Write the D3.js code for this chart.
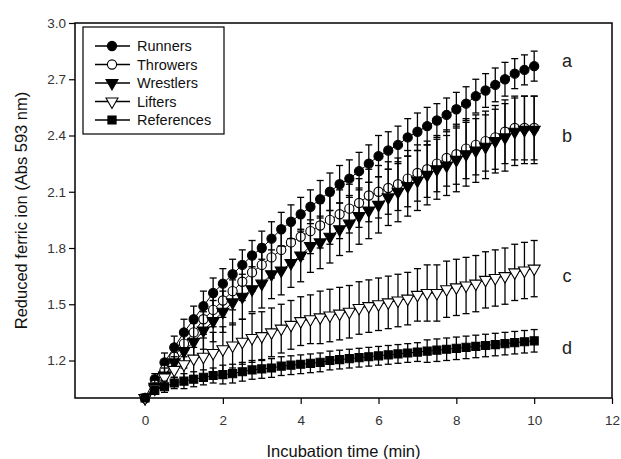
<!DOCTYPE html>
<html>
<head>
<meta charset="utf-8">
<script src="https://cdn.jsdelivr.net/npm/d3@7"></script>
<style>
  body { margin: 0; background: #fff; }
  svg { display: block; font-family: "Liberation Sans", Arial, sans-serif; }
</style>
</head>
<body>
<svg id="chart" width="621" height="459"></svg>
<script>
// incubation time (min)
const times = [0, 0.25, 0.5, 0.75, 1, 1.25, 1.5, 1.75, 2, 2.25, 2.5, 2.75, 3, 3.25, 3.5, 3.75,
  4, 4.25, 4.5, 4.75, 5, 5.25, 5.5, 5.75, 6, 6.25, 6.5, 6.75, 7, 7.25, 7.5, 7.75,
  8, 8.25, 8.5, 8.75, 9, 9.25, 9.5, 9.75, 10];

const runners = [1.00, 1.10, 1.19, 1.27, 1.35, 1.42, 1.49, 1.56, 1.61, 1.66, 1.71, 1.76, 1.80, 1.85,
  1.90, 1.94, 1.98, 2.02, 2.06, 2.10, 2.14, 2.17, 2.21, 2.25, 2.29, 2.32, 2.35, 2.39, 2.42, 2.45,
  2.48, 2.51, 2.54, 2.57, 2.61, 2.64, 2.67, 2.70, 2.73, 2.75, 2.77];
const runnersErr = [0, 0.03, 0.05, 0.06, 0.07, 0.07, 0.08, 0.08, 0.08, 0.08, 0.08, 0.08, 0.09, 0.09,
  0.09, 0.09, 0.09, 0.09, 0.10, 0.10, 0.10, 0.10, 0.10, 0.10, 0.11, 0.10, 0.10, 0.10, 0.10, 0.10,
  0.09, 0.09, 0.09, 0.09, 0.09, 0.09, 0.09, 0.09, 0.08, 0.08, 0.08];

const throwers = [1.00, 1.07, 1.15, 1.22, 1.29, 1.35, 1.42, 1.47, 1.52, 1.57, 1.62, 1.67, 1.71, 1.75,
  1.79, 1.83, 1.86, 1.89, 1.92, 1.95, 1.98, 2.01, 2.04, 2.08, 2.10, 2.12, 2.14, 2.17, 2.20, 2.22,
  2.25, 2.28, 2.30, 2.33, 2.35, 2.37, 2.39, 2.42, 2.44, 2.44, 2.44];
const throwersErr = [0, 0.04, 0.05, 0.06, 0.07, 0.08, 0.08, 0.09, 0.09, 0.10, 0.10, 0.10, 0.11, 0.11,
  0.11, 0.12, 0.12, 0.12, 0.12, 0.13, 0.13, 0.13, 0.13, 0.14, 0.14, 0.14, 0.14, 0.15, 0.15, 0.15,
  0.15, 0.15, 0.16, 0.16, 0.16, 0.16, 0.17, 0.17, 0.17, 0.17, 0.17];

const wrestlers = [1.00, 1.06, 1.12, 1.19, 1.25, 1.30, 1.36, 1.41, 1.46, 1.51, 1.54, 1.58, 1.61, 1.66,
  1.68, 1.72, 1.76, 1.81, 1.83, 1.86, 1.90, 1.93, 1.97, 2.00, 2.03, 2.07, 2.10, 2.13, 2.16, 2.19,
  2.22, 2.24, 2.27, 2.30, 2.32, 2.34, 2.37, 2.39, 2.42, 2.43, 2.43];
const wrestlersErr = [0, 0.04, 0.06, 0.08, 0.09, 0.10, 0.10, 0.11, 0.11, 0.12, 0.12, 0.12, 0.13, 0.13,
  0.13, 0.13, 0.14, 0.14, 0.14, 0.14, 0.14, 0.15, 0.15, 0.15, 0.15, 0.15, 0.16, 0.16, 0.16, 0.16,
  0.16, 0.16, 0.17, 0.17, 0.17, 0.17, 0.17, 0.18, 0.18, 0.18, 0.18];

const lifters = [1.00, 1.05, 1.11, 1.15, 1.18, 1.21, 1.22, 1.24, 1.26, 1.28, 1.30, 1.32, 1.33, 1.35,
  1.37, 1.39, 1.41, 1.42, 1.43, 1.44, 1.45, 1.46, 1.48, 1.49, 1.50, 1.51, 1.52, 1.53, 1.55, 1.56,
  1.56, 1.58, 1.59, 1.60, 1.61, 1.63, 1.64, 1.65, 1.67, 1.68, 1.69];
const liftersErr = [0, 0.03, 0.05, 0.07, 0.08, 0.09, 0.10, 0.11, 0.12, 0.12, 0.12, 0.13, 0.13, 0.13,
  0.13, 0.13, 0.13, 0.13, 0.14, 0.14, 0.14, 0.14, 0.14, 0.14, 0.14, 0.14, 0.14, 0.14, 0.14, 0.15,
  0.15, 0.15, 0.15, 0.15, 0.15, 0.15, 0.15, 0.15, 0.15, 0.15, 0.15];

const references = [1.00, 1.04, 1.06, 1.08, 1.09, 1.10, 1.11, 1.12, 1.125, 1.13, 1.14, 1.15, 1.155,
  1.16, 1.17, 1.175, 1.18, 1.185, 1.19, 1.20, 1.205, 1.21, 1.215, 1.22, 1.225, 1.23, 1.235, 1.24,
  1.245, 1.25, 1.255, 1.26, 1.265, 1.27, 1.275, 1.28, 1.285, 1.29, 1.295, 1.30, 1.305];
const referencesErr = [0, 0.02, 0.03, 0.03, 0.04, 0.04, 0.04, 0.04, 0.05, 0.05, 0.05, 0.05, 0.05,
  0.05, 0.05, 0.05, 0.05, 0.05, 0.05, 0.05, 0.05, 0.05, 0.05, 0.05, 0.05, 0.05, 0.05, 0.05, 0.05,
  0.06, 0.06, 0.06, 0.06, 0.06, 0.06, 0.06, 0.06, 0.06, 0.06, 0.06, 0.06];

const seriesNames = ["Runners", "Throwers", "Wrestlers", "Lifters", "References"];
const groupLetters = ["a", "b", "c", "d"];
const letterValues = [2.80, 2.40, 1.65, 1.27];
const xTicks = [0, 2, 4, 6, 8, 10, 12];
const yTicks = [1.2, 1.5, 1.8, 2.1, 2.4, 2.7, 3.0];

const series = [
  { name: seriesNames[0], values: runners, err: runnersErr, shape: d3.symbolCircle, fill: "#000", rot: 0 },
  { name: seriesNames[1], values: throwers, err: throwersErr, shape: d3.symbolCircle, fill: "#fff", rot: 0 },
  { name: seriesNames[2], values: wrestlers, err: wrestlersErr, shape: d3.symbolTriangle, fill: "#000", rot: 180 },
  { name: seriesNames[3], values: lifters, err: liftersErr, shape: d3.symbolTriangle, fill: "#fff", rot: 180 },
  { name: seriesNames[4], values: references, err: referencesErr, shape: d3.symbolSquare, fill: "#000", rot: 0 }
];

const svg = d3.select("#chart");
const margin = { left: 75, right: 9, top: 23, bottom: 61 };
const W = 621, H = 459;

const x = d3.scaleLinear().domain([-1.8, 12]).range([margin.left, W - margin.right]);
const y = d3.scaleLinear().domain([1.0, 3.0]).range([H - margin.bottom, margin.top]);

// frame
svg.append("rect")
  .attr("x", x(-1.8)).attr("y", y(3.0))
  .attr("width", x(12) - x(-1.8)).attr("height", y(1.0) - y(3.0))
  .attr("fill", "none").attr("stroke", "#000").attr("stroke-width", 1.5);

const xAxis = svg.append("g")
  .attr("transform", `translate(0,${y(1.0)})`)
  .call(d3.axisBottom(x).tickValues(xTicks).tickSize(6).tickSizeOuter(0).tickFormat(d3.format("d")));
const yAxis = svg.append("g")
  .attr("transform", `translate(${x(-1.8)},0)`)
  .call(d3.axisLeft(y).tickValues(yTicks).tickSize(6).tickSizeOuter(0).tickFormat(d3.format(".1f")));

[xAxis, yAxis].forEach((g) => {
  g.select(".domain").remove();
  g.selectAll(".tick line").attr("stroke", "#000").attr("stroke-width", 1.2);
  g.selectAll(".tick text").attr("fill", "#333").style("font-size", "13.5px")
    .style("font-family", "'Liberation Sans', Arial, sans-serif");
});
xAxis.selectAll(".tick text").attr("dy", "1.3em");
yAxis.selectAll(".tick text").attr("x", -9);

// axis titles
svg.append("text")
  .attr("x", (x(-1.8) + x(12)) / 2).attr("y", 457)
  .attr("text-anchor", "middle").style("font-size", "16.5px").attr("fill", "#111")
  .text("Incubation time (min)");
svg.append("text")
  .attr("transform", `translate(27,${(y(1.0) + y(3.0)) / 2}) rotate(-90)`)
  .attr("text-anchor", "middle").style("font-size", "16.5px").attr("fill", "#111")
  .text("Reduced ferric ion (Abs 593 nm)");

const line = d3.line().x((d) => x(d.t)).y((d) => y(d.v));
const cap = 3.5;

series.forEach((s) => {
  const pts = times.map((t, i) => ({ t: t, v: s.values[i], e: s.err[i] }));
  const g = svg.append("g");

  const eb = g.selectAll(".eb").data(pts.filter((d) => d.e > 0)).join("g")
    .attr("stroke", "#000").attr("stroke-width", 1.3);
  eb.append("line")
    .attr("x1", (d) => x(d.t)).attr("x2", (d) => x(d.t))
    .attr("y1", (d) => y(d.v - d.e)).attr("y2", (d) => y(d.v + d.e));
  eb.append("line")
    .attr("x1", (d) => x(d.t) - cap).attr("x2", (d) => x(d.t) + cap)
    .attr("y1", (d) => y(d.v + d.e)).attr("y2", (d) => y(d.v + d.e));
  eb.append("line")
    .attr("x1", (d) => x(d.t) - cap).attr("x2", (d) => x(d.t) + cap)
    .attr("y1", (d) => y(d.v - d.e)).attr("y2", (d) => y(d.v - d.e));

  g.append("path").datum(pts).attr("d", line)
    .attr("fill", "none").attr("stroke", "#000").attr("stroke-width", 1);

  g.selectAll(".pt").data(pts).join("path")
    .attr("d", d3.symbol().type(s.shape).size(s.shape === d3.symbolTriangle ? 62 : 66))
    .attr("transform", (d) => `translate(${x(d.t)},${y(d.v)}) rotate(${s.rot})`)
    .attr("fill", s.fill).attr("stroke", "#000").attr("stroke-width", 1.1);
});

// group letters
svg.selectAll(".letter").data(groupLetters).join("text")
  .attr("x", 567).attr("y", (d, i) => y(letterValues[i]))
  .attr("dy", "0.35em").attr("text-anchor", "middle")
  .style("font-size", "18px").attr("fill", "#222")
  .text((d) => d);

// legend
const legend = svg.append("g");
legend.append("rect")
  .attr("x", 83).attr("y", 27).attr("width", 141).attr("height", 107)
  .attr("fill", "#fff").attr("stroke", "#000").attr("stroke-width", 1.2);
const items = legend.selectAll(".item").data(series).join("g")
  .attr("transform", (d, i) => `translate(0,${46 + i * 18.5})`);
items.append("line").attr("x1", 95).attr("x2", 130).attr("y1", 0).attr("y2", 0)
  .attr("stroke", "#000").attr("stroke-width", 1.3);
items.append("path")
  .attr("d", (d) => d3.symbol().type(d.shape).size(d.shape === d3.symbolTriangle ? 62 : 66)())
  .attr("transform", (d) => `translate(112,0) rotate(${d.rot})`)
  .attr("fill", (d) => d.fill).attr("stroke", "#000").attr("stroke-width", 1.1);
items.append("text").attr("x", 137).attr("dy", "0.35em")
  .style("font-size", "14.5px").attr("fill", "#111")
  .text((d) => d.name);
</script>
</body>
</html>
